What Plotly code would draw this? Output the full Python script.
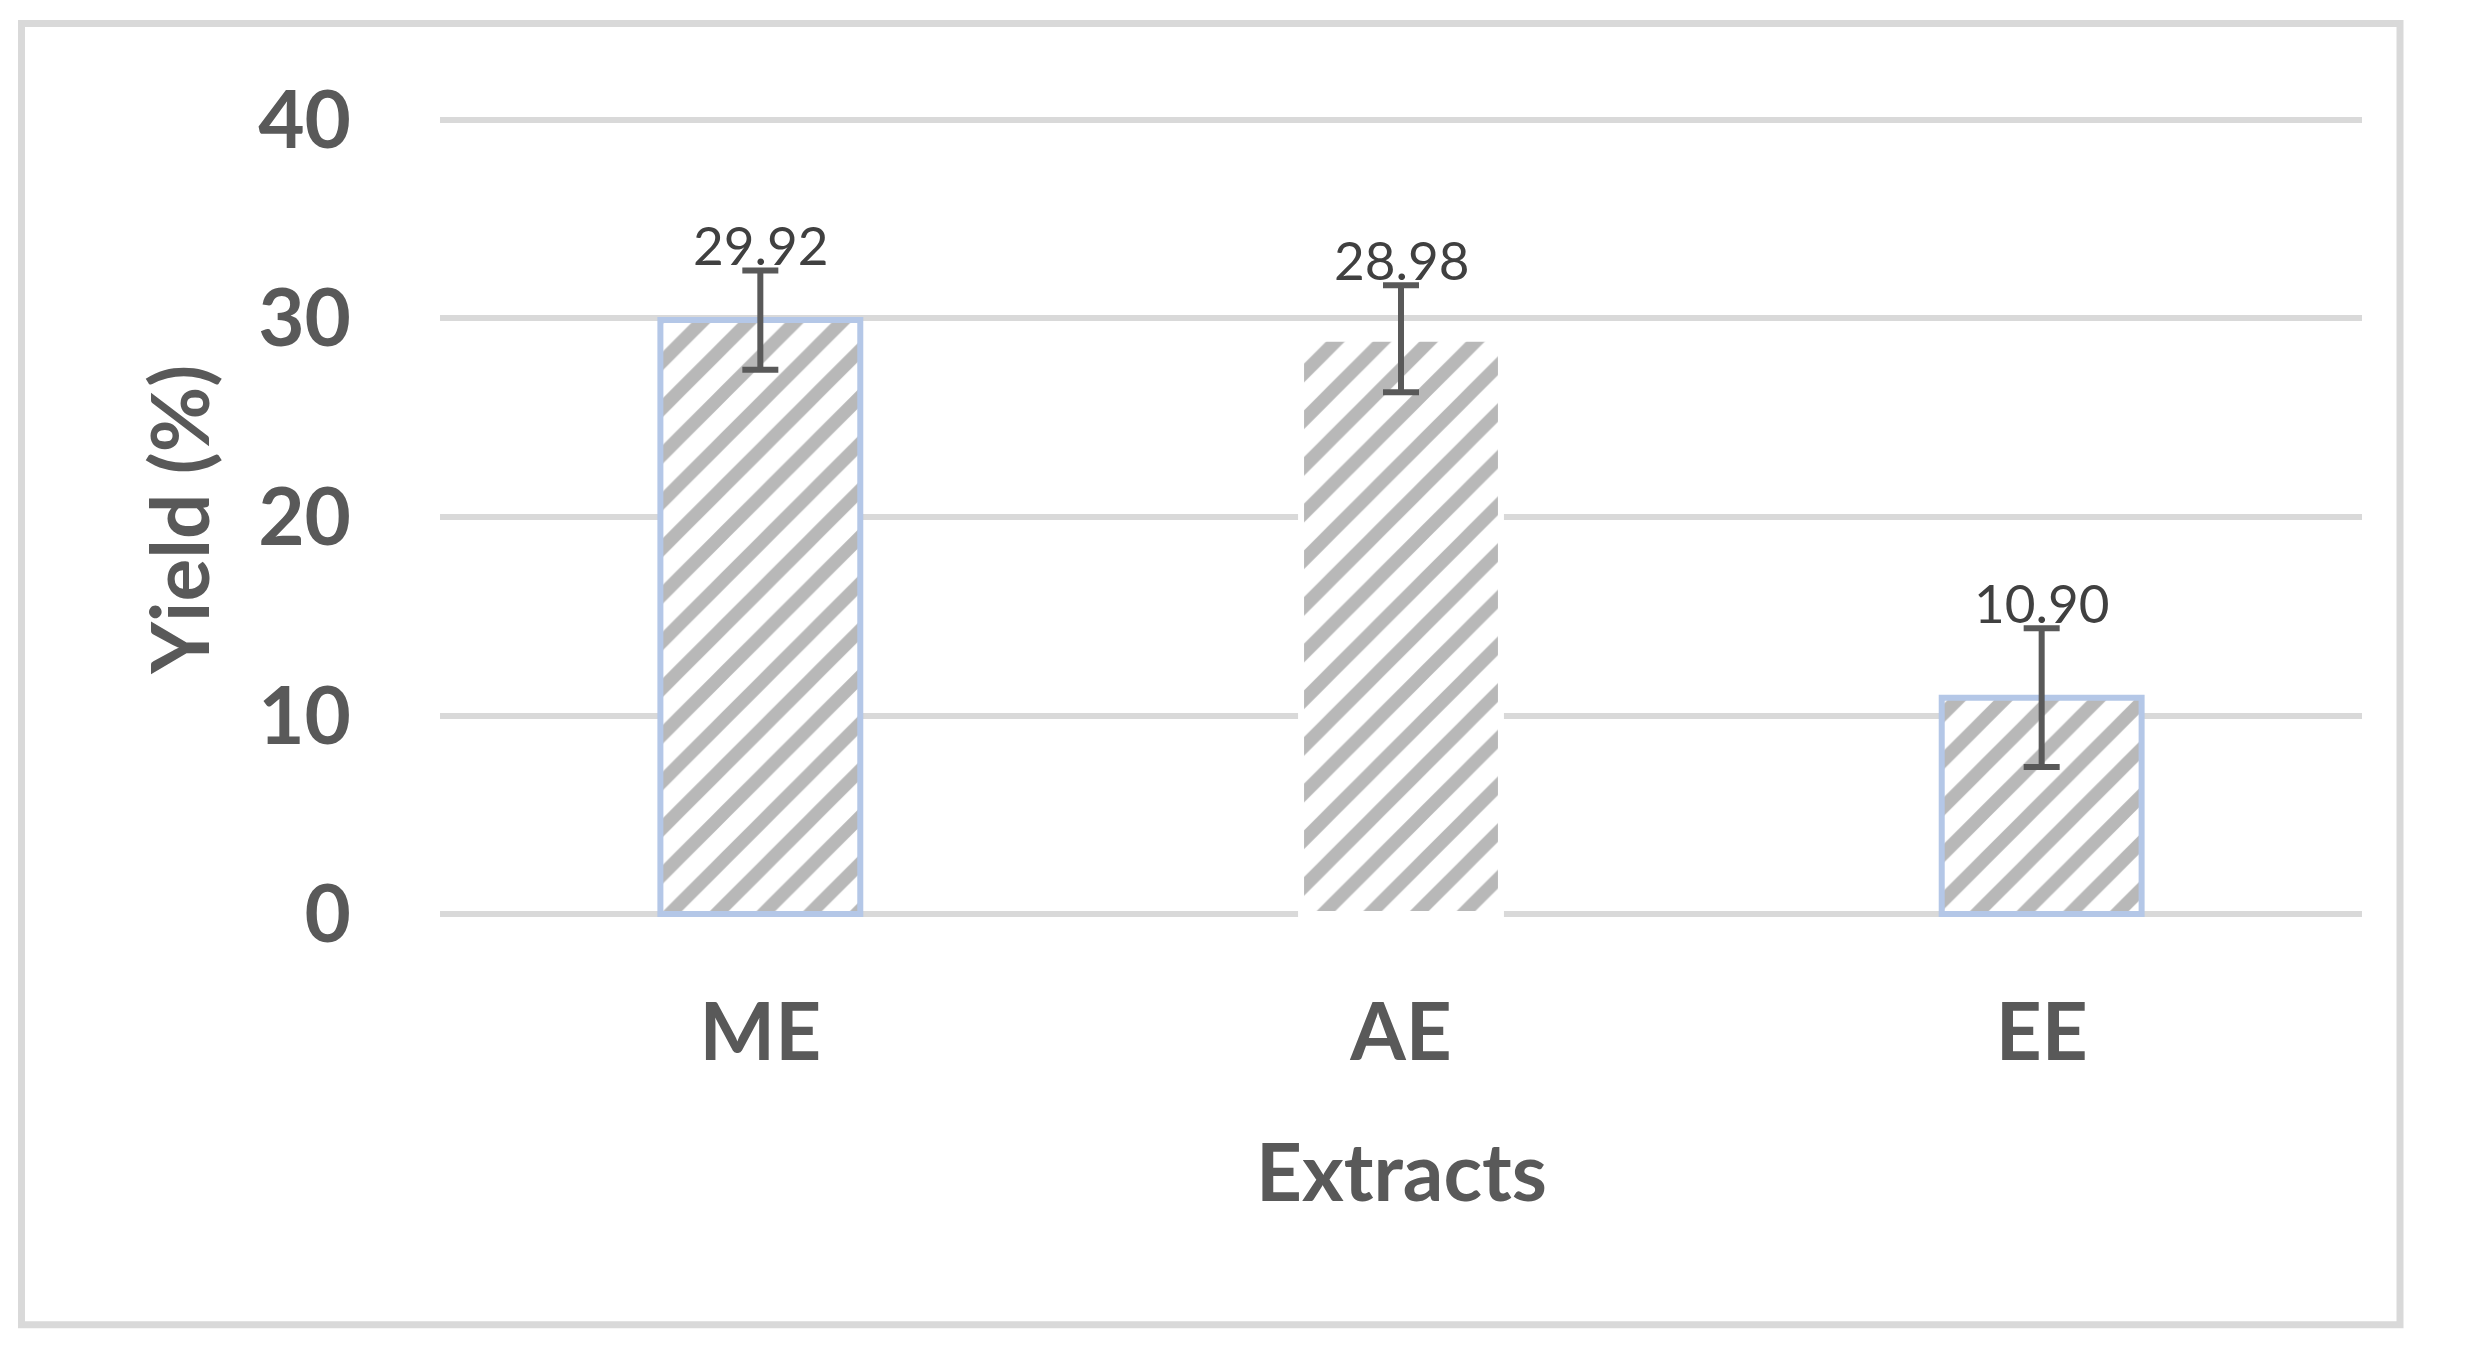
import plotly.graph_objects as go

# ---- data ----
categories = ["ME", "AE", "EE"]
yield_pct = [29.92, 28.98, 10.90]
yield_err = [2.5, 2.7, 3.5]
y_ticks = [0, 10, 20, 30, 40]
x_title = "Extracts"
y_title = "Yield (%)"

W, H = 2474, 1350
OFF = 8  # default page body margin in the browser
ML = 440 - OFF
MT = 117 - OFF
MR = W - (2362 - OFF)
MB = H - (917.5 - OFF)
PW, PH = W - ML - MR, H - MT - MB

FONT = "Lato, 'Open Sans', sans-serif"
AXIS_COLOR = "#595959"
GRID = "#d9d9d9"

fig = go.Figure()
fig.add_trace(go.Bar(
    x=categories,
    y=yield_pct,
    marker=dict(
        color="white",
        pattern=dict(shape="/", fgcolor="#b8b8b8", bgcolor="white",
                     size=33, solidity=0.4, fgopacity=1),
        line=dict(color=["#b4c7e7", "white", "#b4c7e7"], width=6),
    ),
    error_y=dict(type="data", array=yield_err, visible=True,
                 color=AXIS_COLOR, thickness=6, width=18),
    showlegend=False,
    hoverinfo="skip",
))

# data labels
for c, v, e in zip(categories, yield_pct, yield_err):
    fig.add_annotation(x=c, y=v + e, text=f"{v:.2f}", showarrow=False,
                       xanchor="center", yanchor="bottom", yshift=-8,
                       font=dict(family=FONT, size=53, color="#404040"))

# helpers: page pixel -> paper coords
def px_to_paper_x(px):
    return (px - OFF - ML) / PW

def px_to_paper_y(py):
    return (H - MB - (py - OFF)) / PH

fig.add_annotation(xref="paper", yref="paper", x=0.5, y=px_to_paper_y(1171),
                   text=f"<b>{x_title}</b>", showarrow=False,
                   xanchor="center", yanchor="middle",
                   font=dict(family=FONT, size=80, color=AXIS_COLOR))
fig.add_annotation(xref="paper", yref="paper", x=px_to_paper_x(178), y=px_to_paper_y(520),
                   text=f"<b>{y_title}</b>", showarrow=False, textangle=-90,
                   xanchor="center", yanchor="middle",
                   font=dict(family=FONT, size=80, color=AXIS_COLOR))

# outer chart border
fig.add_shape(type="rect", xref="paper", yref="paper",
              x0=px_to_paper_x(21.5), x1=px_to_paper_x(2400),
              y0=px_to_paper_y(1325.5), y1=px_to_paper_y(23.5),
              line=dict(color=GRID, width=7), fillcolor="rgba(0,0,0,0)",
              layer="below")

fig.update_layout(
    width=W, height=H,
    margin=dict(l=ML, r=MR, t=MT, b=MB, pad=0),
    paper_bgcolor="white", plot_bgcolor="white",
    bargap=0.688,
    font=dict(family=FONT, color=AXIS_COLOR),
    xaxis=dict(
        showgrid=False, showline=False, zeroline=False, ticks="",
        tickfont=dict(family=FONT, size=80, color=AXIS_COLOR, weight="bold"),
        ticklabelstandoff=62,
    ),
    yaxis=dict(
        range=[-0.15, 40.15], tickvals=y_ticks,
        showgrid=True, gridcolor=GRID, gridwidth=6,
        showline=False, zeroline=False, ticks="",
        tickfont=dict(family=FONT, size=80, color=AXIS_COLOR, weight="bold"),
        ticklabelstandoff=88,
    ),
)

fig.write_html("out.html")
